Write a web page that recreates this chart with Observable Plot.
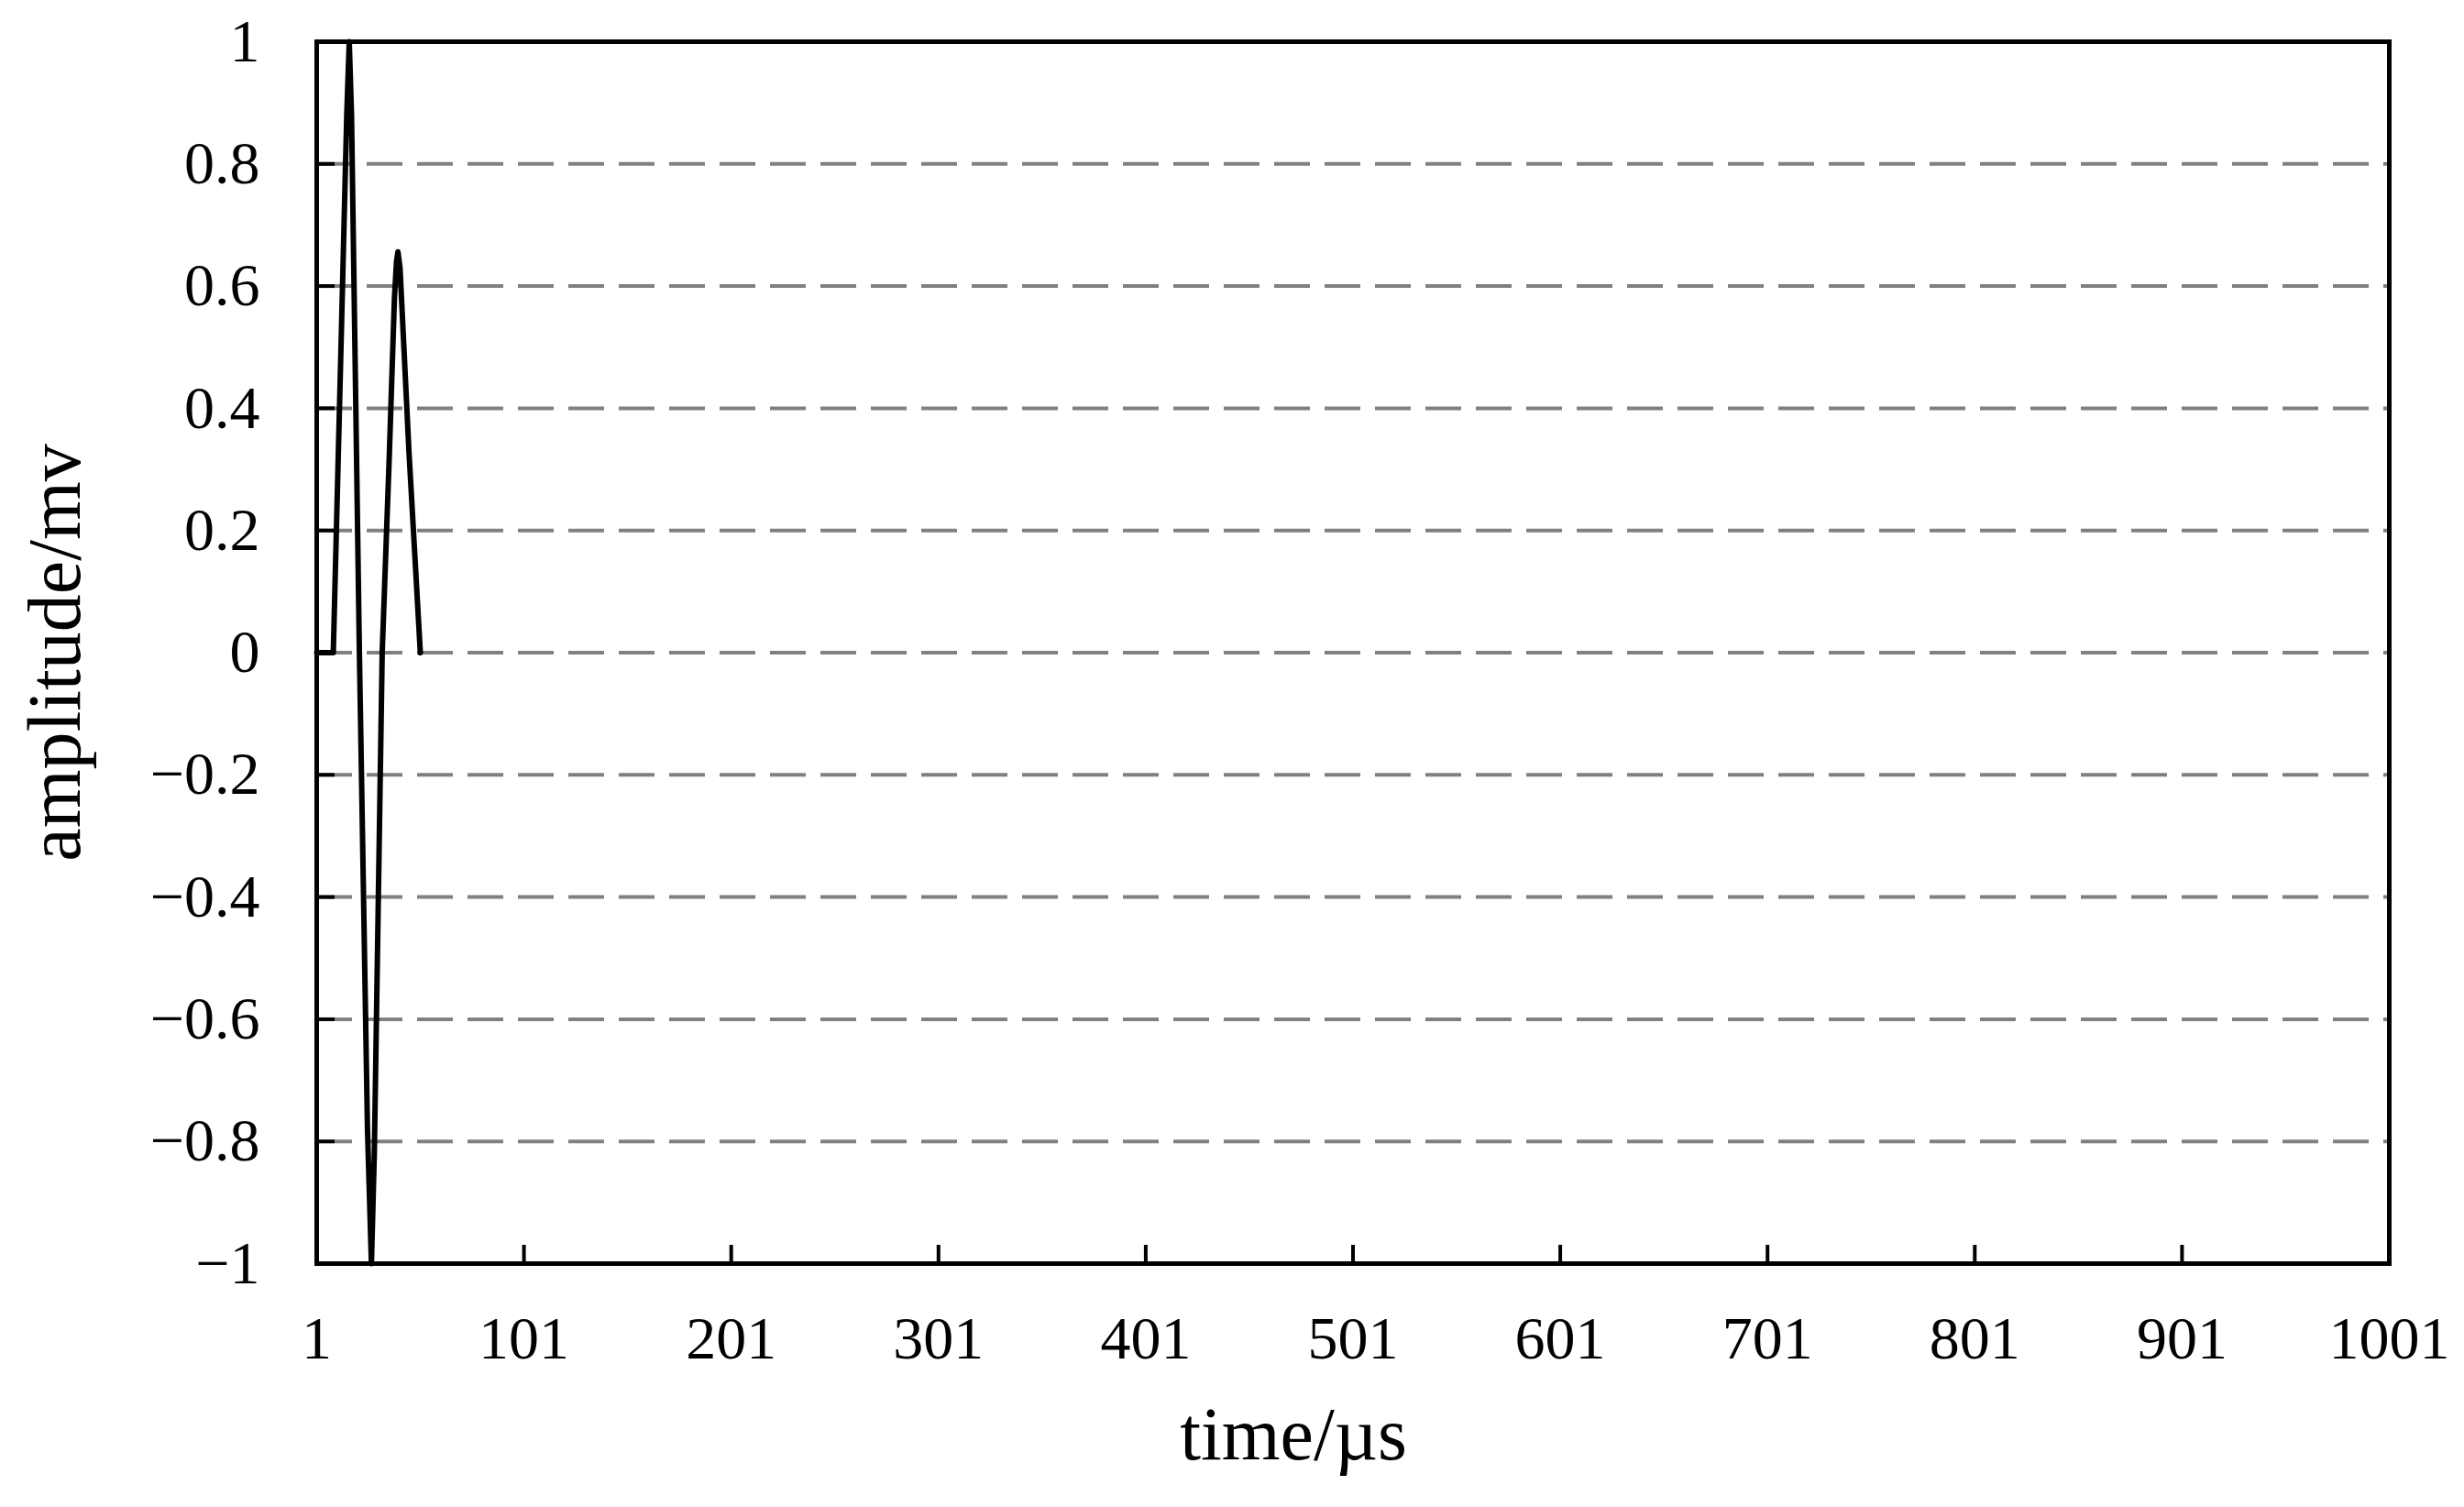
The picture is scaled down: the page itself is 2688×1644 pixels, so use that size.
<!DOCTYPE html>
<html>
<head>
<meta charset="utf-8">
<script src="https://cdn.jsdelivr.net/npm/d3@7"></script>
<script src="https://cdn.jsdelivr.net/npm/@observablehq/plot@0.6"></script>
<style>
  html, body { margin: 0; padding: 0; background: #fff; }
  #chart svg { display: block; }
</style>
</head>
<body>
<div id="chart"></div>
<script>
// ---- data ----
const time = [1, 9, 12.5, 15.5, 16.7, 17.8, 21.6, 25.5, 27.4, 28.8, 32.6, 36, 38.5, 39.5, 40.2, 41.2, 45.5, 51];
const amplitude = [0, 0, 0.47, 0.88, 1.0, 0.88, 0, -0.78, -1.0, -0.82, 0, 0.32, 0.58, 0.64, 0.656, 0.63, 0.33, 0];
const xTicks = [1, 101, 201, 301, 401, 501, 601, 701, 801, 901, 1001];
const yTicks = [-1, -0.8, -0.6, -0.4, -0.2, 0, 0.2, 0.4, 0.6, 0.8, 1];
const gridValues = [-0.8, -0.6, -0.4, -0.2, 0, 0.2, 0.4, 0.6, 0.8];
const xLabel = "time/µs";
const yLabel = "amplitude/mv";

const wave = time.map((t, i) => ({t, a: amplitude[i]}));

const W = 2688, H = 1644;
const mL = 345, mR = W - 2606, mT = 45, mB = H - 1378;
const frameW = W - mL - mR, frameH = H - mT - mB;
const tickLen = 20;
const font = "'Liberation Serif', 'Times New Roman', serif";

const chart = Plot.plot({
  width: W,
  height: H,
  marginLeft: mL,
  marginRight: mR,
  marginTop: mT,
  marginBottom: mB,
  style: {fontFamily: font, background: "#fff", color: "#000"},
  x: {domain: [1, 1001]},
  y: {domain: [-1, 1]},
  marks: [
    Plot.ruleY(gridValues, {y: d => d, stroke: "#808080", strokeWidth: 4, strokeDasharray: "39,16"}),
    Plot.ruleX(xTicks, {x: d => d, stroke: "#000", strokeWidth: 4, insetTop: frameH - tickLen}),
    Plot.ruleY(yTicks, {y: d => d, stroke: "#000", strokeWidth: 4, insetRight: frameW - tickLen}),
    Plot.line(wave, {x: "t", y: "a", stroke: "#000", strokeWidth: 6, strokeLinejoin: "round"}),
    Plot.frame({stroke: "#000", strokeWidth: 5}),
    Plot.axisX(xTicks, {tickSize: 0, tickPadding: 57, fontSize: 66, fill: "#000", label: null, tickFormat: d => String(d)}),
    Plot.axisY(yTicks, {tickSize: 0, tickPadding: 62, fontSize: 66, fill: "#000", label: null, tickFormat: d3.format("~g")}),
    Plot.text([xLabel], {text: d => d, frameAnchor: "bottom", dx: -65, dy: 187, fontSize: 82, fill: "#000", lineAnchor: "middle", textAnchor: "middle"}),
    Plot.text([yLabel], {text: d => d, frameAnchor: "left", rotate: -90, dx: -285, fontSize: 82, fill: "#000", lineAnchor: "middle", textAnchor: "middle"})
  ]
});
document.getElementById("chart").appendChild(chart);
</script>
</body>
</html>
